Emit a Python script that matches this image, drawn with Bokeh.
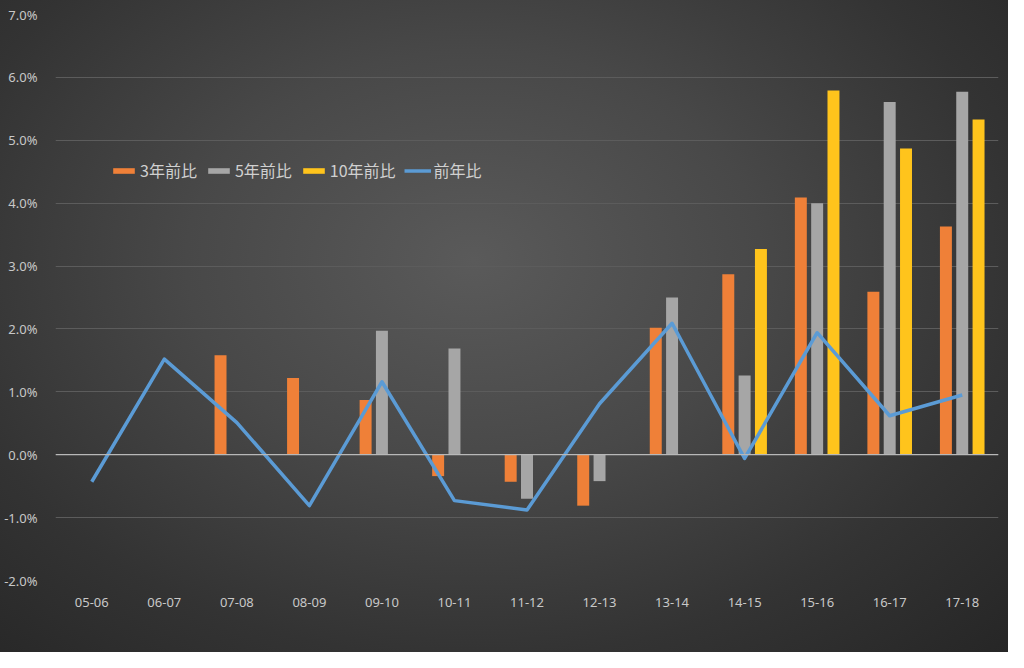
from bokeh.plotting import figure
from bokeh.models import (ColumnDataSource, FactorRange, Range1d, NumeralTickFormatter,
                          SingleIntervalTicker, Span, Legend, LegendItem)
from bokeh.transform import dodge
from bokeh.embed import file_html
from bokeh.resources import INLINE
import numpy as np

periods = ["05-06", "06-07", "07-08", "08-09", "09-10", "10-11", "11-12",
           "12-13", "13-14", "14-15", "15-16", "16-17", "17-18"]
# values in percent
yoy = [-0.43, 1.52, 0.51, -0.81, 1.16, -0.73, -0.88, 0.81, 2.09, -0.06, 1.94, 0.62, 0.95]
r3 = [None, None, 1.58, 1.22, 0.87, -0.34, -0.43, -0.81, 2.02, 2.87, 4.09, 2.59, 3.63]
r5 = [None, None, None, None, 1.97, 1.69, -0.70, -0.42, 2.50, 1.26, 4.00, 5.61, 5.77]
r10 = [None, None, None, None, None, None, None, None, None, 3.27, 5.79, 4.87, 5.33]


def frac(vals):
    return np.array([np.nan if v is None else v / 100 for v in vals], dtype=float)


src = ColumnDataSource(data=dict(period=periods, yoy=frac(yoy), r3=frac(r3),
                                 r5=frac(r5), r10=frac(r10)))

txt = "#c8c8c8"
p = figure(x_range=FactorRange(factors=periods), y_range=Range1d(-0.02, 0.07),
           width=1008, height=652, output_backend="svg", toolbar_location=None,
           min_border_left=55, min_border_right=10, min_border_top=14, min_border_bottom=72)
p.background_fill_color = None
p.border_fill_color = None
p.outline_line_color = None
p.styles = {"background": "radial-gradient(ellipse at 47% 40%, #5a5a5a 0%, #484848 38%, #333333 72%, #262626 100%)"}

p.yaxis.ticker = SingleIntervalTicker(interval=0.01)
p.yaxis.formatter = NumeralTickFormatter(format="0.0%")
for ax in (p.xaxis[0], p.yaxis[0]):
    ax.axis_line_color = None
    ax.major_tick_line_color = None
    ax.minor_tick_line_color = None
    ax.major_label_text_color = txt
    ax.major_label_text_font = "Noto Sans"
    ax.major_label_text_font_size = "13px"
p.yaxis.major_label_standoff = 12
p.xaxis.major_label_standoff = 11
p.xgrid.grid_line_color = None
p.ygrid.grid_line_color = "#5c5c5c"
p.ygrid.grid_line_width = 1

p.add_layout(Span(location=0, dimension="width", line_color="#b8b8b8", line_width=1.2))

w = 0.165
b3 = p.vbar(x=dodge("period", -0.225, range=p.x_range), top="r3", bottom=0, width=w,
            source=src, fill_color="#ef8038", line_color=None)
b5 = p.vbar(x=dodge("period", 0.0, range=p.x_range), top="r5", bottom=0, width=w,
            source=src, fill_color="#a6a6a6", line_color=None)
b10 = p.vbar(x=dodge("period", 0.225, range=p.x_range), top="r10", bottom=0, width=w,
             source=src, fill_color="#ffc41c", line_color=None)
ln = p.line(x="period", y="yoy", source=src, line_color="#5b9bd5", line_width=3.5,
            line_join="round")

legend = Legend(items=[LegendItem(label="3年前比", renderers=[b3]),
                       LegendItem(label="5年前比", renderers=[b5]),
                       LegendItem(label="10年前比", renderers=[b10]),
                       LegendItem(label="前年比", renderers=[ln])],
                orientation="horizontal", location=(55, 398))
legend.background_fill_alpha = 0
legend.border_line_color = None
legend.padding = 0
legend.margin = 0
legend.spacing = 8
legend.glyph_width = 27
legend.glyph_height = 7
legend.label_standoff = 3
legend.label_text_font = "Noto Sans CJK JP"
legend.label_text_font_size = "16px"
legend.label_text_color = "#d0d0d0"
p.add_layout(legend)

open("out.html", "w").write(file_html(p, INLINE))
